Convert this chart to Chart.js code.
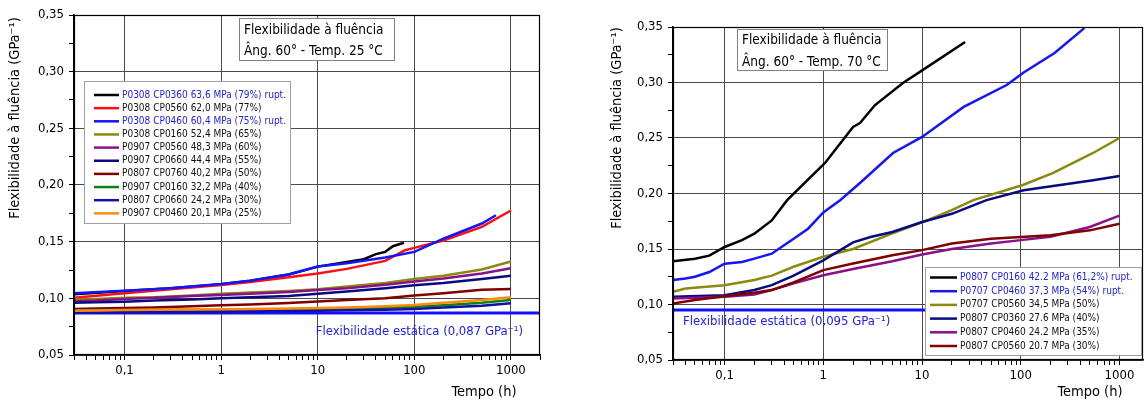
<!DOCTYPE html>
<html><head><meta charset="utf-8">
<script src="https://cdn.jsdelivr.net/npm/chart.js@4.4.1/dist/chart.umd.min.js"></script>
<style>
html,body{margin:0;padding:0;background:#fff;width:1144px;height:403px;overflow:hidden}
#w1{position:absolute;left:0;top:0;width:575px;height:403px}
#w2{position:absolute;left:575px;top:0;width:569px;height:403px}
</style></head><body>
<div id="w1"><canvas id="c1" width="575" height="403"></canvas></div>
<div id="w2"><canvas id="c2" width="569" height="403"></canvas></div>
<script>
const FONT = '"DejaVu Sans Condensed","DejaVu Sans",sans-serif';

// ---------- axes ----------
const xMajorVals = [0.1, 1, 10, 100, 1000];
const xMajorLabels = ['0,1', '1', '10', '100', '1000'];
const yMajorVals = [0.05, 0.10, 0.15, 0.20, 0.25, 0.30, 0.35];
const yMajorLabels = ['0,05', '0,10', '0,15', '0,20', '0,25', '0,30', '0,35'];
const yMinorVals = [0.075, 0.125, 0.175, 0.225, 0.275, 0.325];
const yTitleText = 'Flexibilidade à fluência (GPa⁻¹)';
const xTitleText = 'Tempo (h)';

// ---------- left panel: 25 °C ----------
const leftTitleLines = ['Flexibilidade à fluência', 'Âng. 60° - Temp. 25 °C'];
const leftStatic = 0.087;
const leftStaticText = 'Flexibilidade estática (0,087 GPa⁻¹)';
const leftLabels = [
  'P0308 CP0360 63,6 MPa (79%) rupt.',
  'P0308 CP0560 62,0 MPa (77%)',
  'P0308 CP0460 60,4 MPa (75%) rupt.',
  'P0308 CP0160 52,4 MPa (65%)',
  'P0907 CP0560 48,3 MPa (60%)',
  'P0907 CP0660 44,4 MPa (55%)',
  'P0807 CP0760 40,2 MPa (50%)',
  'P0907 CP0160 32,2 MPa (40%)',
  'P0807 CP0660 24,2 MPa (30%)',
  'P0907 CP0460 20,1 MPa (25%)'
];
const leftColors = ['#000000', '#ff1010', '#1414ff', '#8a8a10', '#8a108a', '#0a0a80', '#800000', '#108010', '#1010a8', '#ff8a10'];
const leftRupt = [true, false, true, false, false, false, false, false, false, false];

const tL = [0.03, 0.05, 0.1, 0.2, 0.5, 1, 2, 5, 10, 20, 50, 100, 200, 500, 1000];
const tL_black = [0.03, 0.1, 0.3, 1, 2, 5, 10, 20, 30, 40, 50, 60, 78];
const vL_black = [0.1035, 0.1065, 0.109, 0.1125, 0.1155, 0.121, 0.128, 0.132, 0.1345, 0.139, 0.141, 0.146, 0.149];
const tL_red = [0.03, 0.1, 0.3, 1, 2, 5, 10, 20, 50, 80, 100, 200, 500, 1000];
const vL_red = [0.1005, 0.1045, 0.108, 0.1118, 0.1145, 0.1187, 0.122, 0.126, 0.133, 0.1425, 0.1445, 0.151, 0.163, 0.1775];
const tL_blue = [0.03, 0.1, 0.3, 1, 2, 5, 10, 20, 50, 100, 200, 500, 700];
const vL_blue = [0.1045, 0.1068, 0.109, 0.1127, 0.1156, 0.121, 0.128, 0.131, 0.136, 0.141, 0.1526, 0.166, 0.1733];
const vL_olive = [0.099, 0.0995, 0.1005, 0.101, 0.1025, 0.104, 0.1052, 0.1065, 0.108, 0.1105, 0.1135, 0.117, 0.120, 0.1255, 0.1325];
const vL_purple = [0.0975, 0.098, 0.0995, 0.1005, 0.102, 0.103, 0.104, 0.1055, 0.1074, 0.109, 0.112, 0.1148, 0.1175, 0.122, 0.1265];
const vL_navy = [0.096, 0.0965, 0.097, 0.098, 0.099, 0.100, 0.101, 0.102, 0.104, 0.106, 0.109, 0.1115, 0.1135, 0.117, 0.120];
const vL_darkred = [0.0905, 0.091, 0.0915, 0.092, 0.093, 0.094, 0.0945, 0.0958, 0.0973, 0.0985, 0.100, 0.1024, 0.1045, 0.1075, 0.1083];
const vL_green = [0.0895, 0.0896, 0.0898, 0.0899, 0.09, 0.090, 0.0902, 0.0903, 0.0905, 0.091, 0.0918, 0.0926, 0.094, 0.096, 0.0985];
const vL_navy2 = [0.0875, 0.0876, 0.0878, 0.0879, 0.088, 0.0882, 0.0885, 0.0888, 0.089, 0.0895, 0.090, 0.0906, 0.092, 0.0935, 0.0956];
const vL_orange = [0.089, 0.0893, 0.0897, 0.0899, 0.0901, 0.0903, 0.0906, 0.091, 0.0915, 0.092, 0.093, 0.0941, 0.096, 0.0985, 0.101];

// ---------- right panel: 70 °C ----------
const rightTitleLines = ['Flexibilidade à fluência', 'Âng. 60° - Temp. 70 °C'];
const rightStatic = 0.095;
const rightStaticText = 'Flexibilidade estática (0,095 GPa⁻¹)';
const rightLabels = [
  'P0807 CP0160 42.2 MPa (61,2%) rupt.',
  'P0707 CP0460 37,3 MPa (54%) rupt.',
  'P0707 CP0560 34,5 MPa (50%)',
  'P0807 CP0360 27.6 MPa (40%)',
  'P0807 CP0460 24.2 MPa (35%)',
  'P0807 CP0560 20.7 MPa (30%)'
];
const rightColors = ['#000000', '#1414ff', '#8a8a10', '#0a0a80', '#8a108a', '#800000'];
const rightRupt = [true, true, false, false, false, false];

const tR_black = [0.03, 0.05, 0.07, 0.1, 0.15, 0.2, 0.3, 0.43, 1.04, 2.0, 2.35, 3.34, 6.4, 10.2, 27.3];
const vR_black = [0.139, 0.1413, 0.144, 0.1518, 0.158, 0.1638, 0.1757, 0.194, 0.2275, 0.26, 0.2635, 0.2797, 0.2995, 0.3114, 0.3365];
const tR_blue = [0.03, 0.04, 0.05, 0.07, 0.1, 0.15, 0.2, 0.3, 0.5, 0.7, 1, 1.48, 2.35, 5.08, 10, 26.4, 72, 107, 220, 440];
const vR_blue = [0.122, 0.1234, 0.125, 0.1293, 0.1368, 0.1383, 0.1413, 0.1458, 0.1593, 0.1683, 0.183, 0.194, 0.2095, 0.2365, 0.251, 0.278, 0.2977, 0.309, 0.3266, 0.349];
const tR_olive = [0.03, 0.04, 0.1, 0.2, 0.3, 0.5, 1, 2, 5, 10, 20, 33, 105, 213, 540, 1000];
const vR_olive = [0.1114, 0.1144, 0.1174, 0.122, 0.126, 0.134, 0.143, 0.150, 0.164, 0.174, 0.185, 0.194, 0.2077, 0.2185, 0.2365, 0.25];
const tR_navy = [0.03, 0.1, 0.2, 0.3, 0.5, 1, 2, 3, 5, 10, 20, 45, 107, 250, 540, 1000];
const vR_navy = [0.107, 0.1084, 0.113, 0.1174, 0.126, 0.1398, 0.156, 0.1608, 0.1653, 0.1743, 0.1817, 0.194, 0.203, 0.2077, 0.212, 0.2158];
const tR_purple = [0.03, 0.1, 0.2, 0.3, 0.5, 1, 2, 5, 10, 20, 50, 100, 200, 500, 1000];
const vR_purple = [0.1054, 0.107, 0.109, 0.113, 0.119, 0.1263, 0.132, 0.139, 0.145, 0.150, 0.155, 0.158, 0.161, 0.1698, 0.180];
const tR_darkred = [0.03, 0.05, 0.1, 0.2, 0.3, 0.5, 1, 2, 5, 10, 20, 50, 100, 200, 500, 1000];
const vR_darkred = [0.1009, 0.104, 0.1075, 0.1105, 0.113, 0.1198, 0.131, 0.137, 0.1443, 0.149, 0.155, 0.1593, 0.1608, 0.1623, 0.1668, 0.1728];

// ---------- helpers ----------
function pts(t, v) { return t.map((x, i) => ({ x: x, y: v[i] })); }
function near(a, b) { return Math.abs(a / b - 1) < 1e-6; }
function xTickList(min, max) {
  const out = [];
  for (let d = 0.01; d <= 10000; d *= 10) {
    for (let m = 1; m <= 9; m++) {
      const v = +(d * m).toPrecision(6);
      if (v >= min * 0.999 && v <= max * 1.001) out.push(v);
    }
  }
  return out;
}
function yTickList() { return yMajorVals.concat(yMinorVals).sort((a, b) => a - b); }
function isXMajor(v) { return xMajorVals.some(m => near(v, m)); }
function isYMajor(v) { return yMajorVals.some(m => Math.abs(v - m) < 1e-9); }

const decor = {
  id: 'decor',
  afterDraw(chart, args, o) {
    const ctx = chart.ctx, a = chart.chartArea;
    ctx.save();
    // frame
    ctx.strokeStyle = '#000'; ctx.lineWidth = 1.2;
    ctx.strokeRect(Math.round(a.left) + 0.5, Math.round(a.top) + 0.5, Math.round(a.right - a.left) - 1, Math.round(a.bottom - a.top) - 1);
    ctx.lineWidth = 1;
    // static label
    ctx.fillStyle = '#2020f0'; ctx.font = '13px ' + FONT; ctx.textBaseline = 'middle';
    ctx.textAlign = o.st.align; ctx.fillText(o.st.text, o.st.x, o.st.y);
    // title box
    const tb = o.tb;
    ctx.fillStyle = '#fff'; ctx.fillRect(tb.x, tb.y, tb.w, tb.h);
    ctx.strokeStyle = '#808080'; ctx.strokeRect(tb.x + 0.5, tb.y + 0.5, tb.w, tb.h);
    ctx.fillStyle = '#000'; ctx.font = '13.5px ' + FONT; ctx.textAlign = 'left';
    tb.lines.forEach((s, i) => ctx.fillText(s, tb.tx, tb.ly[i]));
    // legend
    const lg = o.lg;
    ctx.fillStyle = '#fff'; ctx.fillRect(lg.x, lg.y, lg.w, lg.h);
    ctx.strokeStyle = '#a0a0a0'; ctx.strokeRect(lg.x + 0.5, lg.y + 0.5, lg.w, lg.h);
    ctx.font = '10px ' + FONT;
    lg.labels.forEach((s, i) => {
      const y = lg.row0 + i * lg.step;
      ctx.strokeStyle = lg.colors[i]; ctx.lineWidth = 2.5;
      ctx.beginPath(); ctx.moveTo(lg.sx0, y); ctx.lineTo(lg.sx1, y); ctx.stroke();
      ctx.fillStyle = lg.rupt[i] ? '#2020f0' : '#111';
      ctx.fillText(s, lg.tx, y);
    });
    // axis titles
    ctx.fillStyle = '#000'; ctx.font = '14.5px ' + FONT; ctx.textAlign = 'center';
    ctx.fillText(xTitleText, o.xt.x, o.xt.y);
    ctx.save();
    ctx.translate(o.yt.x, o.yt.y); ctx.rotate(-Math.PI / 2);
    ctx.fillText(yTitleText, 0, 0);
    ctx.restore();
    ctx.restore();
  }
};

function build(canvasId, p) {
  const datasets = p.series.map((s, i) => ({
    label: p.labels[i], data: s, borderColor: p.colors[i], borderWidth: 2.5,
    pointRadius: 0, tension: 0, fill: false, order: -i
  }));
  datasets.push({
    label: 'static', data: [{ x: p.xmin, y: p.staticVal }, { x: p.xmax, y: p.staticVal }],
    borderColor: '#1010ff', borderWidth: 3, pointRadius: 0, order: 100
  });
  const xt = xTickList(p.xmin, p.xmax);
  const yt = yTickList();
  return new Chart(document.getElementById(canvasId), {
    type: 'line',
    data: { datasets },
    options: {
      responsive: false, animation: false,
      layout: { padding: p.pad },
      plugins: { legend: { display: false }, tooltip: { enabled: false }, decor: p.decor },
      scales: {
        x: {
          type: 'logarithmic', min: p.xmin, max: p.xmax,
          afterBuildTicks: sc => { sc.ticks = xt.map(v => ({ value: v, major: isXMajor(v) })); },
          afterFit: sc => { sc.height = p.xh; },
          ticks: {
            autoSkip: false, maxRotation: 0, minRotation: 0, padding: 3, color: '#000',
            font: { family: FONT, size: 13 },
            callback: v => { const k = xMajorVals.findIndex(m => near(v, m)); return k >= 0 ? xMajorLabels[k] : ''; }
          },
          grid: {
            color: c => (c.tick && isXMajor(c.tick.value)) ? '#4a4a4a' : 'rgba(0,0,0,0)',
            tickColor: '#000', tickLength: 5, lineWidth: 1
          },
          border: { display: true, color: '#000', width: 1.5 }
        },
        y: {
          type: 'linear', min: 0.05, max: 0.35,
          afterBuildTicks: sc => { sc.ticks = yt.map(v => ({ value: v })); },
          afterFit: sc => { sc.width = p.yw; },
          ticks: {
            autoSkip: false, padding: 5, color: '#000',
            font: { family: FONT, size: 13 },
            callback: v => { const k = yMajorVals.findIndex(m => Math.abs(v - m) < 1e-9); return k >= 0 ? yMajorLabels[k] : ''; }
          },
          grid: {
            color: c => (c.tick && isYMajor(c.tick.value)) ? '#4a4a4a' : 'rgba(0,0,0,0)',
            tickColor: '#000', tickLength: 5, lineWidth: 1
          },
          border: { display: true, color: '#000', width: 1.5 }
        }
      }
    },
    plugins: [decor]
  });
}

build('c1', {
  xmin: 0.03, xmax: 2000, staticVal: leftStatic, yw: 74, xh: 48,
  pad: { left: 0, top: 15, right: 35, bottom: 0 },
  labels: leftLabels, colors: leftColors,
  series: [pts(tL_black, vL_black), pts(tL_red, vL_red), pts(tL_blue, vL_blue), pts(tL, vL_olive), pts(tL, vL_purple),
           pts(tL, vL_navy), pts(tL, vL_darkred), pts(tL, vL_green), pts(tL, vL_navy2), pts(tL, vL_orange)],
  decor: {
    st: { text: leftStaticText, x: 523, y: 332, align: 'right' },
    tb: { x: 239, y: 18, w: 155, h: 42, tx: 244, ly: [30, 51], lines: leftTitleLines },
    lg: { x: 84, y: 81, w: 206, h: 142, row0: 95, step: 13.15, sx0: 94, sx1: 119, tx: 122, labels: leftLabels, colors: leftColors, rupt: leftRupt },
    xt: { x: 484, y: 392 }, yt: { x: 15, y: 118 }
  }
});

build('c2', {
  xmin: 0.03, xmax: 1730, staticVal: rightStatic, yw: 98, xh: 43,
  pad: { left: 0, top: 27, right: 1, bottom: 0 },
  labels: rightLabels, colors: rightColors,
  series: [pts(tR_black, vR_black), pts(tR_blue, vR_blue), pts(tR_olive, vR_olive), pts(tR_navy, vR_navy),
           pts(tR_purple, vR_purple), pts(tR_darkred, vR_darkred)],
  decor: {
    st: { text: rightStaticText, x: 108, y: 322, align: 'left' },
    tb: { x: 162, y: 29, w: 150, h: 41, tx: 167, ly: [40, 62], lines: rightTitleLines },
    lg: { x: 350, y: 267, w: 216, h: 88, row0: 277.5, step: 13.7, sx0: 355, sx1: 382, tx: 385, labels: rightLabels, colors: rightColors, rupt: rightRupt },
    xt: { x: 515, y: 392 }, yt: { x: 42, y: 128 }
  }
});
</script>
</body></html>
